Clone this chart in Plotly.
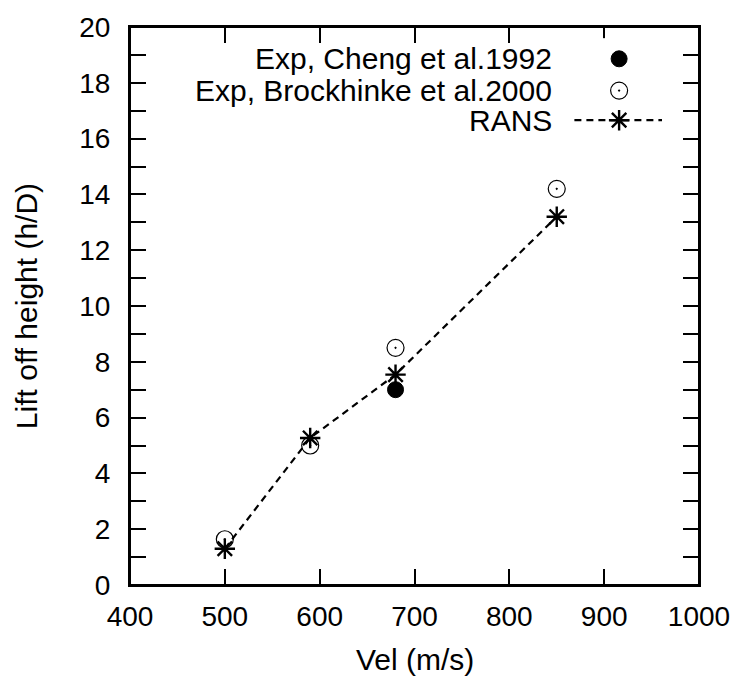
import plotly.graph_objects as go

# ---- data ----
vel_cheng = [680]
h_cheng = [7.0]

vel_brock = [500, 590, 680, 850]
h_brock = [1.64, 5.0, 8.5, 14.2]

vel_rans = [500, 590, 680, 850]
h_rans = [1.3, 5.27, 7.54, 13.2]

legend_labels = ["Exp, Cheng et al.1992", "Exp, Brockhinke et al.2000", "RANS"]

x_ticks = [400, 500, 600, 700, 800, 900, 1000]
y_ticks = [0, 2, 4, 6, 8, 10, 12, 14, 16, 18, 20]

FONT = "Liberation Sans, Arial, Helvetica, sans-serif"
FS_TICK = 28
FS_TEXT = 30

fig = go.Figure()

fig.add_trace(go.Scatter(
    x=vel_cheng, y=h_cheng, mode="markers",
    marker=dict(symbol="circle", size=16, color="black", line=dict(color="black", width=1)),
    showlegend=False))
fig.add_trace(go.Scatter(
    x=vel_brock, y=h_brock, mode="markers",
    marker=dict(symbol="circle-open-dot", size=17, color="black", line=dict(color="black", width=1.2)),
    showlegend=False))
fig.add_trace(go.Scatter(
    x=vel_rans, y=h_rans, mode="lines+markers",
    line=dict(color="black", width=2.2, dash="7px,5px"),
    marker=dict(symbol="asterisk-open", size=17, color="black", line=dict(color="black", width=2.4)),
    showlegend=False))
# invisible trace carrying the top x axis (same range as the main x axis)
fig.add_trace(go.Scatter(x=[x_ticks[0]], y=[y_ticks[0]], xaxis="x3", yaxis="y", mode="markers",
                         marker=dict(opacity=0), showlegend=False, hoverinfo="skip"))

# ---- manual gnuplot-style key (text left, sample right) in its own small invisible subplot ----
KX0, KX1, KY0, KY1 = 0.75, 0.96, 0.80, 0.98
key_rows_paper = [0.943, 0.886, 0.833]
key_rows = [(v - KY0) / (KY1 - KY0) for v in key_rows_paper]
key_sym_x = (0.8596 - KX0) / (KX1 - KX0)
key_line_x = [(0.781 - KX0) / (KX1 - KX0), (0.935 - KX0) / (KX1 - KX0)]

fig.add_trace(go.Scatter(
    x=[key_sym_x], y=[key_rows[0]], xaxis="x2", yaxis="y2", mode="markers",
    marker=dict(symbol="circle", size=16, color="black", line=dict(color="black", width=1)),
    showlegend=False, hoverinfo="skip"))
fig.add_trace(go.Scatter(
    x=[key_sym_x], y=[key_rows[1]], xaxis="x2", yaxis="y2", mode="markers",
    marker=dict(symbol="circle-open-dot", size=17, color="black", line=dict(color="black", width=1.2)),
    showlegend=False, hoverinfo="skip"))
fig.add_trace(go.Scatter(
    x=key_line_x, y=[key_rows[2], key_rows[2]], xaxis="x2", yaxis="y2", mode="lines",
    line=dict(color="black", width=2.2, dash="7px,5px"),
    showlegend=False, hoverinfo="skip"))
fig.add_trace(go.Scatter(
    x=[key_sym_x], y=[key_rows[2]], xaxis="x2", yaxis="y2", mode="markers",
    marker=dict(symbol="asterisk-open", size=17, color="black", line=dict(color="black", width=2.4)),
    showlegend=False, hoverinfo="skip"))

annotations = []
for lab, yy in zip(legend_labels, key_rows_paper):
    annotations.append(dict(text=lab, xref="paper", yref="paper", x=0.7456, y=yy,
                            xanchor="right", yanchor="middle", showarrow=False,
                            font=dict(family=FONT, size=FS_TEXT, color="black")))
annotations.append(dict(text="Vel (m/s)", xref="paper", yref="paper", x=0.5, y=-0.1335,
                        xanchor="center", yanchor="middle", showarrow=False,
                        font=dict(family=FONT, size=FS_TEXT, color="black")))
annotations.append(dict(text="Lift off height (h/D)", xref="paper", yref="paper", x=-0.1825, y=0.5,
                        xanchor="center", yanchor="middle", textangle=-90, showarrow=False,
                        font=dict(family=FONT, size=FS_TEXT, color="black")))

axis_common = dict(showline=True, linecolor="black", linewidth=2,
                   ticks="inside", tickcolor="black", tickwidth=2, ticklen=16,
                   showgrid=False, zeroline=False, ticklabeloverflow="allow",
                   tickfont=dict(family=FONT, size=FS_TICK, color="black"))

fig.update_layout(
    width=742, height=679,
    margin=dict(l=130, r=42, t=23, b=94),
    paper_bgcolor="white", plot_bgcolor="white",
    xaxis=dict(range=[400, 1000], tickvals=x_ticks, ticktext=[str(v) for v in x_ticks],
               ticklabelstandoff=5, domain=[0, 1], anchor="y", mirror=False, **axis_common),
    xaxis3=dict(range=[400, 1000], tickvals=x_ticks, showticklabels=False, side="top",
                overlaying="x", anchor="y", mirror=False, **axis_common),
    yaxis=dict(range=[0, 20], tickvals=y_ticks, ticktext=[str(v) for v in y_ticks],
               ticklabelstandoff=12, domain=[0, 1], anchor="x", mirror="allticks",
               minor=dict(dtick=1, ticks="inside", ticklen=8, tickwidth=2, tickcolor="black"),
               **axis_common),
    xaxis2=dict(range=[0, 1], domain=[KX0, KX1], anchor="y2", visible=False, fixedrange=True),
    yaxis2=dict(range=[0, 1], domain=[KY0, KY1], anchor="x2", visible=False, fixedrange=True),
    shapes=[dict(type="rect", xref="paper", yref="paper", x0=0, x1=1, y0=0, y1=1,
                 line=dict(color="black", width=2), fillcolor="rgba(0,0,0,0)", layer="above")],
    annotations=annotations,
    showlegend=False,
)

# remove the default page margin so the 742x679 figure fills the window exactly
post = "document.body.style.margin='0';document.body.style.overflow='hidden';"
fig.write_html("out.html", post_script=post, config={"displayModeBar": False})
